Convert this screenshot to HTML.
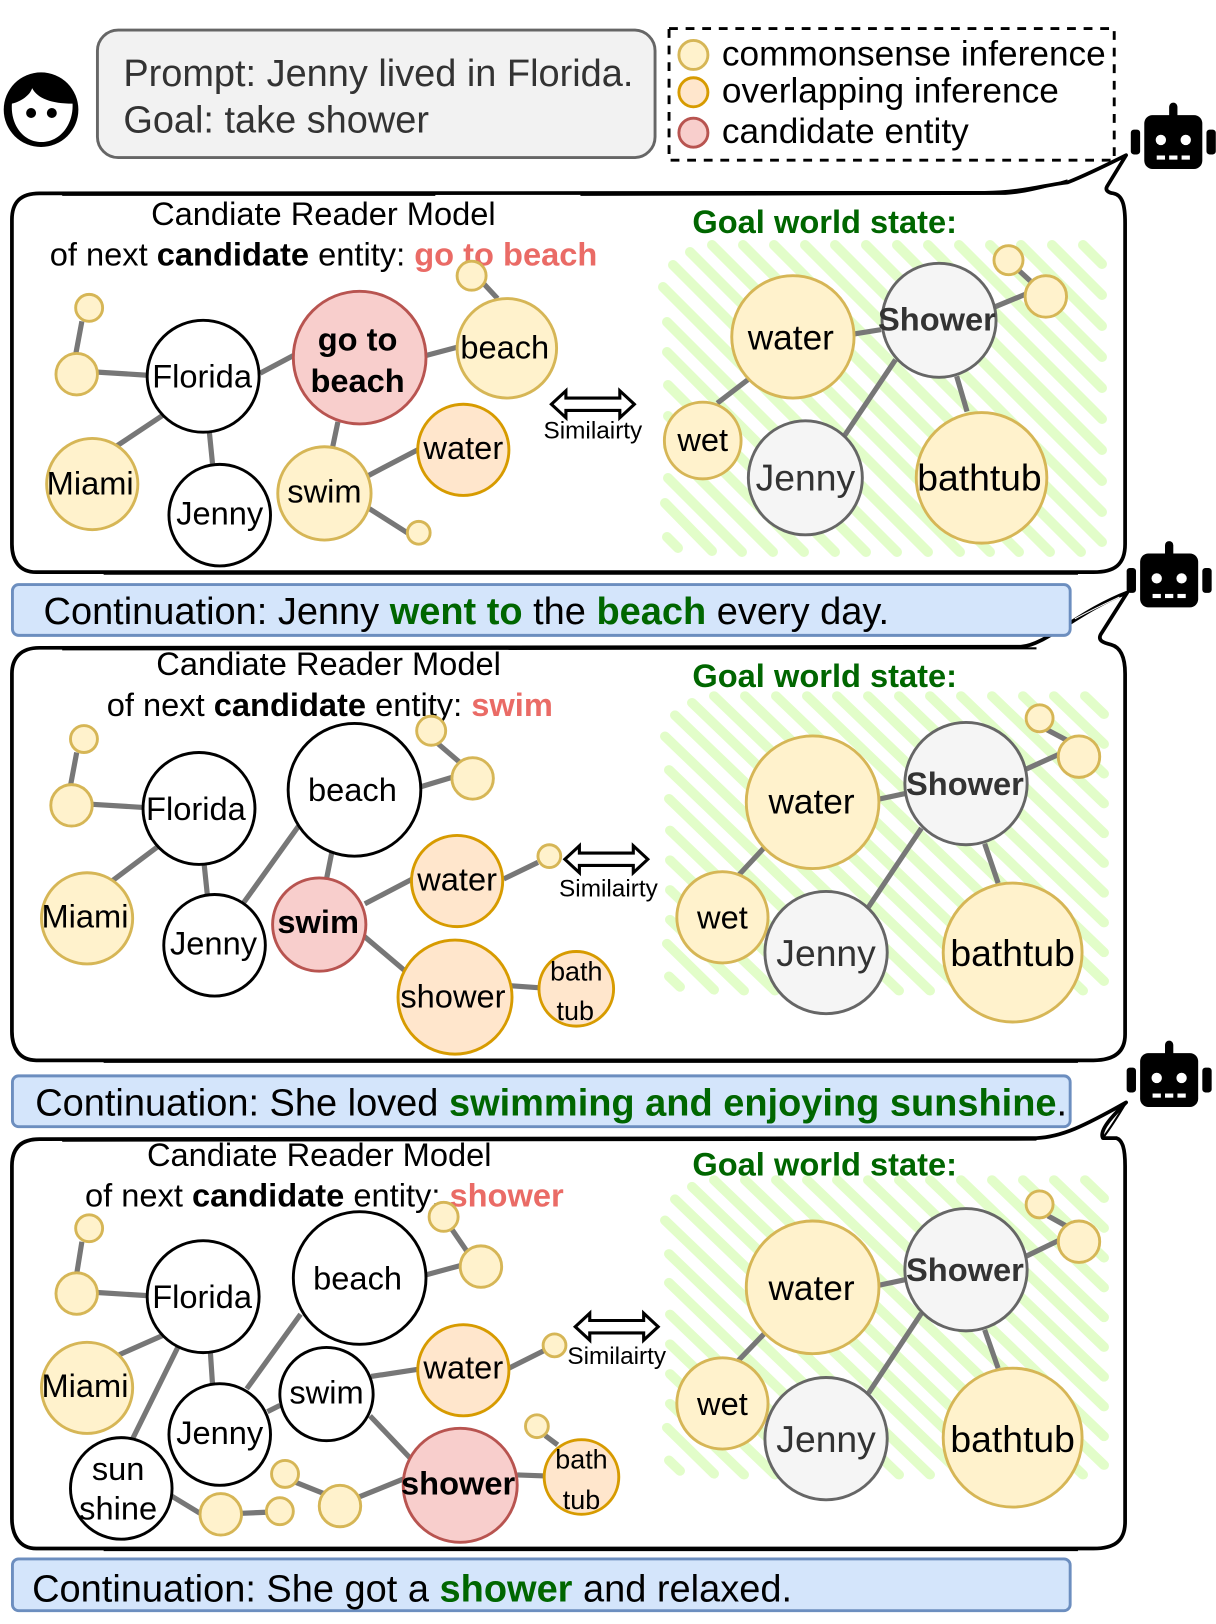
<!DOCTYPE html>
<html>
<head>
<meta charset="utf-8">
<style>
html,body{margin:0;padding:0;background:#fff}
svg{display:block}
text{font-family:"Liberation Sans",sans-serif;text-anchor:middle;fill:#000}
.t{text-anchor:start}
.n{font-size:31.5px}
.b{font-weight:bold}
.e{stroke:#777;stroke-width:5;fill:none}
.y{fill:#fff2cc;stroke:#d6b656;stroke-width:2.8}
.o{fill:#ffe6cc;stroke:#d79b00;stroke-width:2.8}
.p{fill:#f8cecc;stroke:#b85450;stroke-width:2.8}
.g{fill:#f5f5f5;stroke:#666;stroke-width:2.8}
.w{fill:#fff;stroke:#000;stroke-width:2.8}
.panel{fill:#fff;stroke:#000;stroke-width:3.6;stroke-linejoin:round}
.rough{fill:none;stroke:#000;stroke-width:2}
.box{fill:#d4e5fb;stroke:#6c8ebf;stroke-width:2.8}
.gr{fill:#006600;font-weight:bold}
.rd{fill:#ea6b66;font-weight:bold}
.sim{font-size:23.5px}
.arrow{fill:#fff;stroke:#000;stroke-width:3}
</style>
</head>
<body>
<svg xmlns="http://www.w3.org/2000/svg" width="1216" height="1624" viewBox="0 0 1173.2 1566.8">
<defs>
<path id="hatch" fill="none" stroke="#e2fdc9" stroke-width="10" stroke-linecap="round" d="M667,537L678,548M665,503L712,551M668,478L742,552M668,447L773,552M668,416L804,552M668,385L835,552M667,352L866,552M667,322L897,552M663,287L928,552M673,265L960,552M690,252L990,552M712,245L1019,552M743,245L1050,552M774,245L1081,552M805,245L1102,542M835,245L1102,512M866,245L1102,481M897,245L1102,450M928,245L1102,419M959,245L1102,388M990,245L1102,357M1021,245L1102,326M1052,245L1102,295M1083,245L1102,264"/>
<g id="robot">
<rect x="-28" y="-26" width="56" height="52" rx="8" fill="#000"/>
<rect x="-4" y="-38" width="8" height="16" rx="4" fill="#000"/>
<rect x="-41" y="-12" width="9" height="24" rx="3" fill="#000"/>
<rect x="32" y="-12" width="9" height="24" rx="3" fill="#000"/>
<circle cx="-12" cy="-2" r="5" fill="#fff"/>
<circle cx="12" cy="-2" r="5" fill="#fff"/>
<rect x="-16" y="13" width="8" height="4" fill="#fff"/>
<rect x="-4" y="13" width="8" height="4" fill="#fff"/>
<rect x="8" y="13" width="8" height="4" fill="#fff"/>
</g>
<g id="arrow">
<path class="arrow" d="M0,0 L14,-13 L14,-6 L66,-6 L66,-13 L80,0 L66,13 L66,6 L14,6 L14,13 Z"/>
<path d="M14,0 L66,0" stroke="#fff" stroke-width="6"/>
</g>
</defs>
<rect width="1175" height="1569" fill="#fff"/>

<!-- Person -->
<circle cx="39.6" cy="105.8" r="36" fill="#000"/>
<path d="M11.5,100 C20,98 29,92 31,85 C36,95 50,100 70,100 C71,120 58,137 40,137 C22,137 10,120 11.5,100 Z" fill="#fff"/>
<circle cx="30" cy="109" r="4.8" fill="#000"/>
<circle cx="50" cy="109" r="4.8" fill="#000"/>

<!-- Prompt -->
<rect x="94" y="29" width="538" height="123" rx="20" fill="#f2f2f2" stroke="#666" stroke-width="2.8"/>
<text class="t" x="119" y="83" font-size="36.6" style="fill:#333">Prompt: Jenny lived in Florida.</text>
<text class="t" x="119" y="128" font-size="36.6" style="fill:#333">Goal: take shower</text>

<!-- Legend -->
<rect x="645.5" y="27.5" width="429.5" height="127" fill="none" stroke="#000" stroke-width="2.8" stroke-dasharray="8.5 7.5"/>
<circle class="y" cx="669" cy="53" r="14"/>
<circle class="o" cx="669" cy="89" r="14"/>
<circle class="p" cx="669" cy="128" r="14"/>
<text class="t" x="696.5" y="63" font-size="34">commonsense inference</text>
<text class="t" x="696.5" y="99" font-size="34">overlapping inference</text>
<text class="t" x="696.5" y="138" font-size="34">candidate entity</text>

<use href="#robot" x="1132" y="137"/>
<use href="#robot" x="1128" y="560"/>
<use href="#robot" x="1128" y="1042"/>

<!-- Panel 1 -->
<path class="panel" d="M38,186.5 L950,186 C985,186 1010,178 1030,176 C1050,168 1070,158 1086.5,149.7 L1068,180 C1066,184 1070,186 1074,186.5 C1083,188 1085.5,198 1085.5,215 L1085.5,525 C1085.5,545 1075,552 1055,552 L35,552 C18,552 11.5,540 11.5,525 L11.5,212 C11.5,195 20,186.5 38,186.5 Z"/>
<path class="rough" d="M60,188 L420,188 M560,188 L970,187 C990,186 1010,180 1030,174 M100,553.5 L1040,553.5"/>
<g transform="scale(.9648)"><use href="#hatch"/></g>
<text x="312" y="217" class="n">Candiate Reader Model</text>
<text class="t n" x="48" y="256">of next <tspan class="b">candidate</tspan> entity: <tspan class="rd">go to beach</tspan></text>
<text class="t n gr" x="668" y="225">Goal world state:</text>
<path class="e" d="M79,310L73,342M94,359L142,362M158,400L113,430M251,360L283,343M411,343L441,335M467,274L480,288M326,407L321,431M355,459L403,434M352,488L393,514M202,417L205,447M825,322L850,318M960,296L989,284M982,260L994,271M692,389L722,366M815,420L864,347M923,363L933,397"/>
<circle class="y" cx="86" cy="297" r="13"/><circle class="y" cx="74" cy="361" r="20"/><circle class="w" cx="196" cy="363" r="54"/><circle class="p" cx="347" cy="345" r="64"/><circle class="y" cx="455" cy="266" r="14"/><circle class="y" cx="489" cy="336" r="48"/><circle class="y" cx="89" cy="467" r="44"/><circle class="w" cx="212" cy="497" r="49"/><circle class="y" cx="313" cy="476" r="45"/><circle class="o" cx="447" cy="434" r="44"/><circle class="y" cx="404" cy="514" r="11"/>
<circle class="y" cx="765" cy="325" r="59"/><circle class="g" cx="906" cy="309" r="55"/><circle class="y" cx="973" cy="251" r="14"/><circle class="y" cx="1009" cy="286" r="20"/><circle class="y" cx="678" cy="425" r="37"/><circle class="g" cx="777" cy="461" r="55"/><circle class="y" cx="947" cy="461" r="63"/>
<text x="195" y="374" class="n">Florida</text>
<text x="345" y="338" class="n b">go to</text><text x="345" y="378" class="n b">beach</text>
<text x="487" y="346" class="n">beach</text>
<text x="87" y="477" class="n">Miami</text>
<text x="212" y="506" class="n">Jenny</text>
<text x="313" y="485" class="n">swim</text>
<text x="447" y="443" class="n">water</text>
<text x="763" y="337" font-size="34">water</text>
<text x="904" y="319" class="n b" style="fill:#333">Shower</text>
<text x="678" y="435" class="n">wet</text>
<text x="777" y="473" font-size="36" style="fill:#333">Jenny</text>
<text x="945" y="473" font-size="36">bathtub</text>
<use href="#arrow" x="532" y="390"/>
<text x="572" y="423" class="sim">Similairty</text>

<!-- Panel 2 -->
<path class="panel" d="M38,625 L985,624 C1010,622 1040,590 1087.6,571.6 L1062,612 C1059,618 1064,620 1072,622 C1083,625 1085.5,638 1085.5,650 L1085.5,998 C1085.5,1015 1075,1023 1055,1023 L35,1023 C18,1023 11.5,1010 11.5,995 L11.5,650 C11.5,635 20,625 38,625 Z"/>
<path class="rough" d="M60,626.5 L1000,625.5 M100,1024.5 L1040,1024.5"/>
<path d="M1037,597 C1050,590 1065,583 1080,576" fill="none" stroke="#fff" stroke-width="1"/>
<g transform="scale(.9648)"><use href="#hatch" transform="translate(2,460.8) scale(1,.96)"/></g>
<text x="317" y="651" class="n">Candiate Reader Model</text>
<text class="t n" x="103" y="691">of next <tspan class="b">candidate</tspan> entity: <tspan class="rd">swim</tspan></text>
<text class="t n gr" x="668" y="663">Goal world state:</text>
<path class="e" d="M74,726L68,758M89,776L138,779M152,817L108,850M197,834L200,863M235,871L288,797M320,823L315,848M406,759L436,750M422,717L443,735M352,872L398,848M486,848L519,832M351,903L390,936M492,951L521,953M848,771L876,765M990,742L1021,728M1010,704L1029,714M712,845L738,817M838,875L889,799M950,814L963,852"/>
<circle class="y" cx="81" cy="713" r="13"/><circle class="y" cx="69" cy="777" r="20"/><circle class="w" cx="192" cy="780" r="54"/><circle class="w" cx="342" cy="762" r="64"/><circle class="y" cx="416" cy="705" r="14"/><circle class="y" cx="456" cy="751" r="20"/><circle class="y" cx="84" cy="886" r="44"/><circle class="w" cx="207" cy="912" r="49"/><circle class="p" cx="308" cy="892" r="45"/><circle class="o" cx="441" cy="850" r="44"/><circle class="y" cx="530" cy="826" r="11"/><circle class="o" cx="439" cy="962" r="55"/><circle class="o" cx="556" cy="954" r="36"/>
<circle class="y" cx="784" cy="774" r="64"/><circle class="g" cx="932" cy="756" r="59"/><circle class="y" cx="1003" cy="693" r="13"/><circle class="y" cx="1041" cy="730" r="20"/><circle class="y" cx="697" cy="885" r="44"/><circle class="g" cx="797" cy="919" r="59"/><circle class="y" cx="977" cy="919" r="67"/>
<text x="189" y="791" class="n">Florida</text>
<text x="340" y="773" class="n">beach</text>
<text x="82" y="895" class="n">Miami</text>
<text x="206" y="921" class="n">Jenny</text>
<text x="307" y="900" class="n b">swim</text>
<text x="441" y="859" class="n">water</text>
<text x="437" y="972" class="n">shower</text>
<text x="556" y="946" font-size="26">bath</text><text x="555" y="984" font-size="26">tub</text>
<text x="783" y="785" font-size="34">water</text>
<text x="931" y="767" class="n b" style="fill:#333">Shower</text>
<text x="697" y="896" class="n">wet</text>
<text x="797" y="932" font-size="36" style="fill:#333">Jenny</text>
<text x="977" y="932" font-size="36">bathtub</text>
<use href="#arrow" x="545" y="829"/>
<text x="587" y="865" class="sim">Similairty</text>

<!-- Panel 3 -->
<path class="panel" d="M38,1099 L1000,1098 C1024,1097 1046,1086.5 1086.5,1063.6 C1075,1075 1060,1090 1064,1098 C1070,1098 1073,1098 1077,1098 C1083,1100 1085.5,1108 1085.5,1125 L1085.5,1468 C1085.5,1487 1075,1494 1055,1494 L35,1494 C18,1494 11.5,1480 11.5,1465 L11.5,1125 C11.5,1108 20,1099 38,1099 Z"/>
<path class="rough" d="M60,1100.5 L1000,1099.5 M100,1495.5 L1040,1495.5 M1086.5,1063.6 C1078,1078 1070,1090 1064,1098"/>
<g transform="scale(.9648)"><use href="#hatch" transform="translate(2,944.8) scale(1,.96)"/></g>
<text x="308" y="1125" class="n">Candiate Reader Model</text>
<text class="t n" x="82" y="1164">of next <tspan class="b">candidate</tspan> entity: <tspan class="rd">shower</tspan></text>
<text class="t n gr" x="668" y="1134">Goal world state:</text>
<path class="e" d="M79,1198L74,1229M94,1247L142,1250M158,1288L115,1307M203,1305L205,1335M172,1299L128,1388M238,1340L290,1268M258,1362L270,1356M411,1230L444,1221M436,1186L451,1208M358,1328L404,1321M491,1320L525,1303M357,1366L396,1407M499,1423L526,1424M526,1385L538,1394M347,1444L389,1427M285,1430L315,1442M165,1443L193,1460M233,1460L257,1459M848,1240L876,1234M990,1212L1021,1197M1011,1173L1029,1183M712,1313L738,1286M838,1344L889,1267M950,1283L963,1320"/>
<circle class="y" cx="86" cy="1185" r="13"/><circle class="y" cx="74" cy="1248" r="20"/><circle class="w" cx="196" cy="1251" r="54"/><circle class="w" cx="347" cy="1233" r="64"/><circle class="y" cx="428" cy="1174" r="14"/><circle class="y" cx="464" cy="1222" r="20"/><circle class="y" cx="84" cy="1339" r="44"/><circle class="w" cx="212" cy="1384" r="49"/><circle class="w" cx="315" cy="1345" r="45"/><circle class="o" cx="447" cy="1322" r="44"/><circle class="y" cx="535" cy="1298" r="11"/><circle class="p" cx="444" cy="1433" r="55"/><circle class="o" cx="561" cy="1425" r="36"/><circle class="y" cx="518" cy="1376" r="11"/><circle class="w" cx="117" cy="1436" r="49"/><circle class="y" cx="213" cy="1461" r="20"/><circle class="y" cx="270" cy="1458" r="13"/><circle class="y" cx="275" cy="1422" r="13"/><circle class="y" cx="328" cy="1453" r="20"/>
<circle class="y" cx="784" cy="1242" r="64"/><circle class="g" cx="932" cy="1225" r="59"/><circle class="y" cx="1003" cy="1162" r="13"/><circle class="y" cx="1041" cy="1198" r="20"/><circle class="y" cx="697" cy="1354" r="44"/><circle class="g" cx="797" cy="1388" r="59"/><circle class="y" cx="977" cy="1387" r="67"/>
<text x="195" y="1262" class="n">Florida</text>
<text x="345" y="1244" class="n">beach</text>
<text x="82" y="1348" class="n">Miami</text>
<text x="212" y="1393" class="n">Jenny</text>
<text x="315" y="1354" class="n">swim</text>
<text x="447" y="1330" class="n">water</text>
<text x="442" y="1442" class="n b">shower</text>
<text x="561" y="1417" font-size="26">bath</text><text x="561" y="1456" font-size="26">tub</text>
<text x="114" y="1428" class="n">sun</text><text x="114" y="1466" class="n">shine</text>
<text x="783" y="1254" font-size="34">water</text>
<text x="931" y="1236" class="n b" style="fill:#333">Shower</text>
<text x="697" y="1365" class="n">wet</text>
<text x="797" y="1401" font-size="36" style="fill:#333">Jenny</text>
<text x="977" y="1401" font-size="36">bathtub</text>
<use href="#arrow" x="555" y="1280"/>
<text x="595" y="1316" class="sim">Similairty</text>

<!-- Continuations -->
<rect class="box" x="12" y="564" width="1020.5" height="49" rx="6"/>
<text class="t" x="42" y="602" font-size="36.65">Continuation: Jenny <tspan class="gr">went to</tspan> the <tspan class="gr">beach</tspan> every day.</text>
<rect class="box" x="12" y="1038" width="1020.5" height="49" rx="6"/>
<text class="t" x="34" y="1076" font-size="36.65">Continuation: She loved <tspan class="gr">swimming and enjoying sunshine</tspan>.</text>
<rect class="box" x="12" y="1504" width="1020.5" height="50" rx="6"/>
<text class="t" x="31" y="1545" font-size="36.65">Continuation: She got a <tspan class="gr">shower</tspan> and relaxed.</text>
</svg>
</body>
</html>
